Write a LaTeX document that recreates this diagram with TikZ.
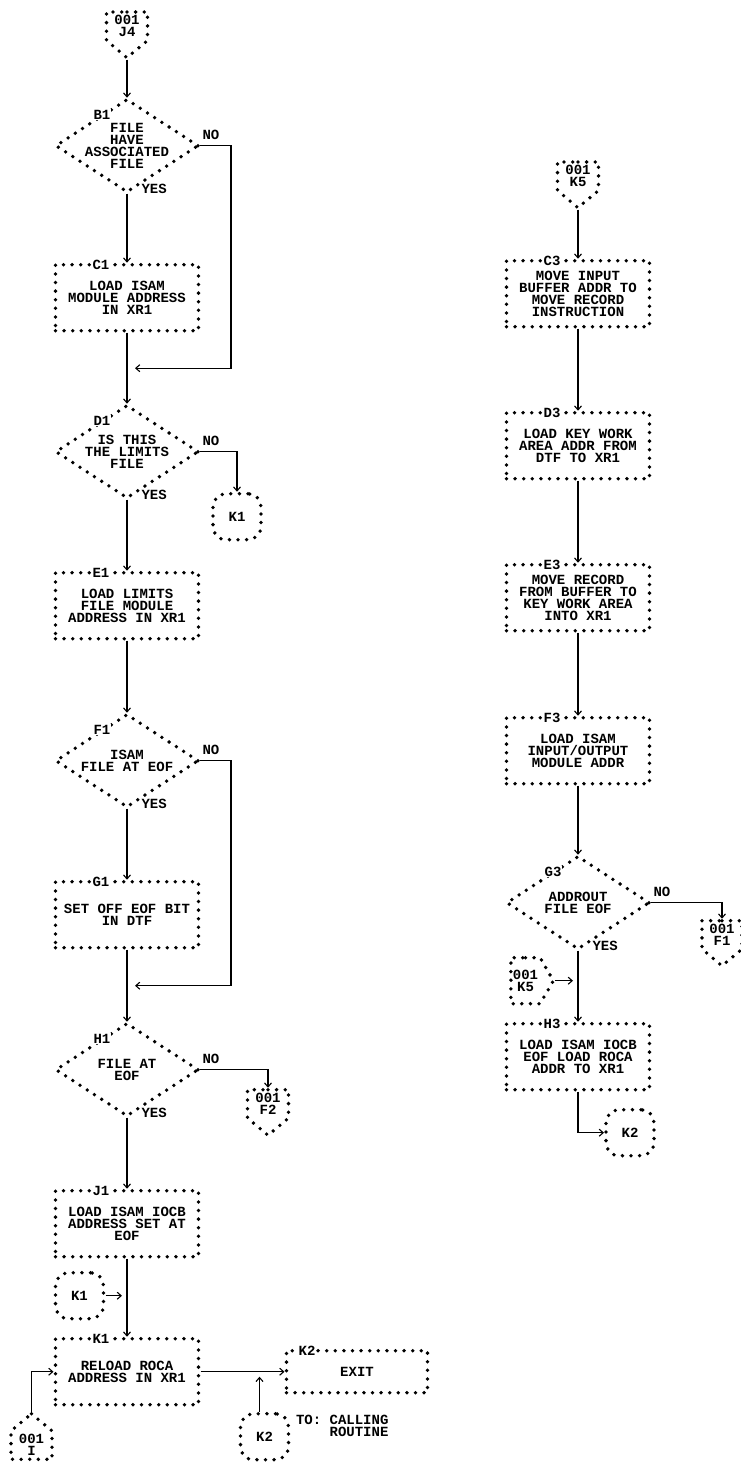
\documentclass[tikz,border=0pt]{standalone}
\usepackage{fontspec}
\setmonofont{Liberation Mono}
\usetikzlibrary{positioning,calc,arrows.meta,shapes.geometric,shapes.symbols}
\tikzset{>={Straight Barb[length=4pt,width=7pt]}}

\begin{document}
\begin{tikzpicture}[
    x=1pt, y=1pt,
    node distance=75pt,
    every node/.style={font=\ttfamily\bfseries\fontsize{14}{12}\selectfont, align=center},
    stars/.style={draw, line width=3.8pt, line cap=round, dash pattern=on 0pt off 8.6pt, outer sep=0pt},
    tag/.style={fill=white, inner sep=1pt, anchor=center},
    box/.style={rectangle, stars, minimum width=143pt, minimum height=66pt, inner sep=2pt},
    process/.style={box, label={[tag, xshift=-26pt]north:#1}},
    decision/.style={diamond, stars, minimum width=142pt, minimum height=92pt, inner sep=-5pt,
        shape aspect=1.5, label={[tag, xshift=-25pt, yshift=-15pt]north:#1}},
    offpage/.style={signal, signal to=#1, signal pointer angle=100, stars, minimum width=41pt,
        inner xsep=2pt, inner ysep=3.5pt},
    connector/.style={rectangle, rounded corners=13pt, stars, minimum width=48pt, minimum height=46pt, inner sep=0pt},
    answer/.style={inner sep=1pt},
    flow/.style={->, line width=1.1pt, shorten >=2pt, shorten <=2pt}
]
\useasboundingbox (0,0) rectangle (740,-1467);

\node[offpage=south, anchor=north] (j4) at (127,-12) {001\\J4};
\node[decision=B1, below=42pt of j4] (b1) {FILE\\HAVE\\ASSOCIATED\\FILE};
\node[process=C1, below=73pt of b1] (c1) {LOAD ISAM\\MODULE ADDRESS\\IN XR1};
\node[decision=D1, below=of c1] (d1) {IS THIS\\THE LIMITS\\FILE};
\node[connector, below=42pt of d1.east, xshift=39pt] (k1a) {K1};
\node[process=E1, below=of d1] (e1) {LOAD LIMITS\\FILE MODULE\\ADDRESS IN XR1};
\node[decision=F1, below=76pt of e1] (f1) {ISAM\\FILE AT EOF};
\node[process=G1, below=of f1] (g1) {SET OFF EOF BIT\\IN DTF};
\node[decision=H1, below=76pt of g1] (h1) {FILE AT\\EOF};
\node[offpage=south, below=20pt of h1.east, xshift=70pt] (f2) {001\\F2};
\node[process=J1, below=75pt of h1] (j1) {LOAD ISAM IOCB\\ADDRESS SET AT\\EOF};
\node[process=K1, below=82pt of j1] (k1) {RELOAD ROCA\\ADDRESS IN XR1};
\node[connector, above=20pt of k1.north west, xshift=24pt] (k1b) {K1};
\node[box, minimum width=141pt, minimum height=42pt, right=88pt of k1,
    label={[tag, xshift=-50pt]north:K2}] (k2) {EXIT};
\node[offpage=north, below=42pt of k1.west, xshift=-24pt] (i1) {001\\I};
\node[connector, below=42pt of k1.east, xshift=66pt] (k2a) {K2};
\node[anchor=north west, align=left] (tocall) at ([xshift=4pt,yshift=2pt]k2a.north east)
    {TO: CALLING\\\phantom{TO: }ROUTINE};

\node[offpage=south, anchor=north] (k5) at (578,-162) {001\\K5};
\node[process=C3, below=53pt of k5] (c3) {MOVE INPUT\\BUFFER ADDR TO\\MOVE RECORD\\INSTRUCTION};
\node[process=D3, below=86pt of c3] (d3) {LOAD KEY WORK\\AREA ADDR FROM\\DTF TO XR1};
\node[process=E3, below=86pt of d3] (e3) {MOVE RECORD\\FROM BUFFER TO\\KEY WORK AREA\\INTO XR1};
\node[process=F3, below=87pt of e3] (f3) {LOAD ISAM\\INPUT/OUTPUT\\MODULE ADDR};
\node[decision=G3, below=73pt of f3] (g3) {ADDROUT\\FILE EOF};
\node[offpage=south, below=18pt of g3.east, xshift=73pt, minimum width=40pt] (f1p) {001\\F1};
\node[process=H3, below=of g3] (h3) {LOAD ISAM IOCB\\EOF LOAD ROCA\\ADDR TO XR1};
\node[offpage=east, signal pointer angle=120, minimum height=46pt, inner ysep=2pt,
    above=20pt of h3.north west, xshift=19pt] (k5b) {001\\K5};
\node[connector, below=20pt of h3.south, xshift=52pt] (k2b) {K2};

\coordinate (b1j) at ($(c1.south)!0.5!(d1.north)+(6pt,0)$);
\coordinate (f1j) at ($(g1.south)!0.5!(h1.north)+(6pt,0)$);

\draw[flow] (j4.south) -- (b1.north);
\draw[flow] (b1.south) -- node[answer, pos=0, anchor=west, xshift=13pt, yshift=3pt] (b1yes) {YES} (c1.north);
\draw[flow] (b1.east) -- node[answer, pos=0, anchor=south west, xshift=3pt, yshift=5pt] (b1no) {NO} ++(33pt,0) |- (b1j);
\draw[flow] (c1.south) -- (d1.north);
\draw[flow] (d1.south) -- node[answer, pos=0, anchor=west, xshift=13pt, yshift=3pt] (d1yes) {YES} (e1.north);
\draw[flow] (d1.east) -- node[answer, pos=0, anchor=south west, xshift=3pt, yshift=5pt] (d1no) {NO} ++(33pt,0) -| (k1a.north);
\draw[flow] (e1.south) -- (f1.north);
\draw[flow] (f1.south) -- node[answer, pos=0, anchor=west, xshift=13pt, yshift=3pt] (f1yes) {YES} (g1.north);
\draw[flow] (f1.east) -- node[answer, pos=0, anchor=south west, xshift=3pt, yshift=5pt] (f1no) {NO} ++(33pt,0) |- (f1j);
\draw[flow] (g1.south) -- (h1.north);
\draw[flow] (h1.south) -- node[answer, pos=0, anchor=west, xshift=13pt, yshift=3pt] (h1yes) {YES} (j1.north);
\draw[flow] (h1.east) -- node[answer, pos=0, anchor=south west, xshift=3pt, yshift=5pt] (h1no) {NO} ++(30pt,0) -| (f2.north);
\draw[flow] (j1.south) -- (k1.north);
\draw[flow] (k1b.east) -- ($(k1b.east -| j1.south)+(-3pt,0)$);
\draw[flow] (i1.north) |- (k1.west);
\draw[flow] (k1.east) -- (k2.west);
\draw[flow] ([xshift=-5pt]k2a.north) -- ($(k2a.north |- k1.east)+(-5pt,-3pt)$);

\draw[flow] (k5.south) -- (c3.north);
\draw[flow] (c3.south) -- (d3.north);
\draw[flow] (d3.south) -- (e3.north);
\draw[flow] (e3.south) -- (f3.north);
\draw[flow] (f3.south) -- (g3.north);
\draw[flow] (g3.south) -- node[answer, pos=0, anchor=west, xshift=13pt, yshift=3pt] (g3yes) {YES} (h3.north);
\draw[flow] (g3.east) -- node[answer, pos=0, anchor=south west, xshift=3pt, yshift=5pt] (g3no) {NO} ++(40pt,0) -| (f1p.north);
\draw[flow] (k5b.east) -- ($(k5b.east -| h3.north)+(-3pt,0)$);
\draw[flow] (h3.south) |- (k2b.west);
\end{tikzpicture}
\end{document}
